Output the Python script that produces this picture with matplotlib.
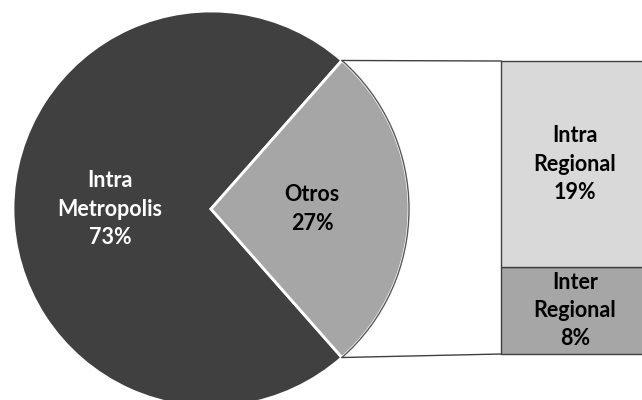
import matplotlib.pyplot as plt
from matplotlib.patches import Arc
import numpy as np

pie_labels = ["Intra Metropolis", "Otros"]
pie_values = [73, 27]
bar_labels = ["Inter Regional", "Intra Regional"]
bar_values = [8, 19]

pie_colors = ["#404040", "#a6a6a6"]
bar_colors = ["#a6a6a6", "#d9d9d9"]
text_colors = ["white", "black"]

plt.rcParams['font.family'] = ['Lato', 'DejaVu Sans']
fs = 15.5

fig = plt.figure(figsize=(6.42, 4.0), dpi=100)
ax = fig.add_axes([0, 0, 1, 1])

cx, cy, r = 211, 191, 198
start = 180 * pie_values[1] / 100
wedges, texts = ax.pie(pie_values, center=(cx, cy), radius=r, startangle=start,
                       colors=pie_colors, labels=[f"{n.replace(' ', chr(10))}\n{v}%" for n, v in zip(pie_labels, pie_values)],
                       labeldistance=0.51, wedgeprops={"edgecolor": "white", "linewidth": 2},
                       textprops={"fontsize": fs, "fontweight": "bold"})
for t, c in zip(texts, text_colors):
    t.set_ha("center")
    t.set_va("center")
    t.set_color(c)
    t.set_linespacing(1.42)

# outline on the arc of the small slice
w = wedges[1]
ax.add_patch(Arc((cx, cy), 2 * r, 2 * r, theta1=w.theta1, theta2=w.theta2, color="#595959", lw=1))

# stacked bar for the breakdown of "Otros"
bar_x, bar_w, bar_bottom = 575, 148, 46
scale = 293 / sum(bar_values)
bottom = bar_bottom
for name, v, col in zip(bar_labels, bar_values, bar_colors):
    ax.bar(bar_x, v * scale, bar_w, bottom=bottom, color=col, edgecolor="#404040", linewidth=1)
    ax.text(bar_x, bottom + v * scale / 2, f"{name.replace(' ', chr(10))}\n{v}%", ha="center", va="center",
            fontsize=fs, fontweight="bold", color="black", linespacing=1.42)
    bottom += v * scale

# connector lines
t1, t2 = np.radians(w.theta1), np.radians(w.theta2)
p_bot = (cx + r * np.cos(t1), cy + r * np.sin(t1))
p_top = (cx + r * np.cos(t2), cy + r * np.sin(t2))
left = bar_x - bar_w / 2
ax.plot([p_top[0], left], [p_top[1], bottom], color="#404040", lw=1)
ax.plot([p_bot[0], left], [p_bot[1], bar_bottom], color="#404040", lw=1)

ax.set_xlim(0, 642)
ax.set_ylim(0, 400)
ax.set_aspect("auto")
ax.axis("off")

plt.savefig("out.png", dpi=100)
